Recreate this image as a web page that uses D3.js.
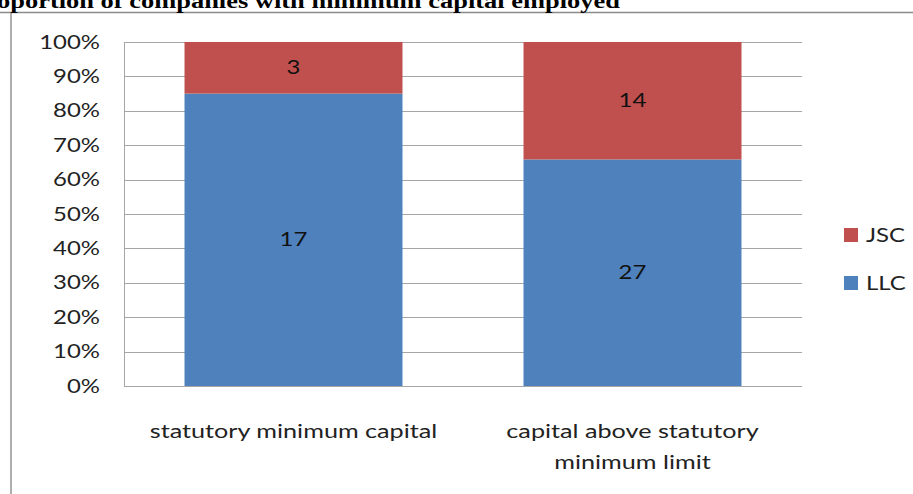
<!DOCTYPE html>
<html>
<head>
<meta charset="utf-8">
<script src="https://cdn.jsdelivr.net/npm/d3@7"></script>
<style>
  html, body { margin: 0; padding: 0; background: #fff; }
  svg { display: block; }
</style>
</head>
<body>
<svg id="chart" width="913" height="494"></svg>
<script>
// Company counts by capital level, split into LLC and JSC
const categories = [["statutory minimum capital"], ["capital above statutory", "minimum limit"]];
const llcCounts = [17, 27];
const jscCounts = [3, 14];
const seriesNames = ["LLC", "JSC"];
const seriesColors = ["#4F81BD", "#C0504D"];
const tickValues = [0, 0.1, 0.2, 0.3, 0.4, 0.5, 0.6, 0.7, 0.8, 0.9, 1.0];
const titleText = "Proportion of companies with minimum capital employed";

const svg = d3.select("#chart");
const font = "Lato, 'Open Sans', sans-serif";
const sx = 1.26; // horizontal widening of the lettering

// Outer frame: rule under the title and left border
svg.append("line").attr("x1", 0).attr("x2", 913).attr("y1", 12.5).attr("y2", 12.5)
  .attr("stroke", "#8a8a8a").attr("stroke-width", 1.6);
svg.append("line").attr("x1", 11).attr("x2", 11).attr("y1", 12).attr("y2", 494)
  .attr("stroke", "#9a9a9a").attr("stroke-width", 1.6);

// Title
svg.append("text").attr("transform", `translate(620,8) scale(${sx},1)`).attr("text-anchor", "end")
  .attr("font-family", "'Liberation Serif', 'Times New Roman', serif")
  .attr("font-weight", "bold").attr("font-size", 21).attr("fill", "#000")
  .text(titleText);

const plot = { left: 124, right: 802, top: 42, bottom: 386 };

const x = d3.scaleBand().domain(d3.range(categories.length))
  .range([plot.left, plot.right]).paddingInner(0.357).paddingOuter(0.1785);
const y = d3.scaleLinear().domain([0, 1]).range([plot.bottom, plot.top]);

// Gridlines
svg.append("g").selectAll("line").data(tickValues).join("line")
  .attr("x1", plot.left).attr("x2", plot.right)
  .attr("y1", d => Math.round(y(d)) + 0.5).attr("y2", d => Math.round(y(d)) + 0.5)
  .attr("stroke", "#a6a6a6").attr("stroke-width", 1);
svg.append("line").attr("x1", plot.left + 0.5).attr("x2", plot.left + 0.5)
  .attr("y1", plot.top).attr("y2", plot.bottom)
  .attr("stroke", "#a6a6a6");

// Y axis labels
const yAxis = d3.axisLeft(y).tickValues(tickValues).tickFormat(d3.format(".0%"))
  .tickSize(0).tickPadding(24);
const yg = svg.append("g").attr("transform", `translate(${plot.left},0)`).call(yAxis);
yg.select(".domain").remove();
yg.selectAll("text").attr("font-family", font).attr("font-size", 19).attr("fill", "#222")
  .attr("x", -24 / sx).attr("transform", `scale(${sx},1)`);

// Stacked percentage data
const rows = categories.map((c, i) => {
  const total = llcCounts[i] + jscCounts[i];
  return { i, LLC: llcCounts[i] / total, JSC: jscCounts[i] / total, counts: { LLC: llcCounts[i], JSC: jscCounts[i] } };
});
const stack = d3.stack().keys(seriesNames)(rows);

const layers = svg.append("g").selectAll("g").data(stack).join("g")
  .attr("fill", (d, k) => seriesColors[k]);
layers.selectAll("rect").data(d => d.map(p => ({ p, key: d.key }))).join("rect")
  .attr("x", d => x(d.p.data.i))
  .attr("width", x.bandwidth())
  .attr("y", d => y(d.p[1]))
  .attr("height", d => y(d.p[0]) - y(d.p[1]));

// Value labels inside the segments
layers.selectAll("text").data(d => d.map(p => ({ p, key: d.key }))).join("text")
  .attr("transform", d => `translate(${x(d.p.data.i) + x.bandwidth() / 2},${(y(d.p[0]) + y(d.p[1])) / 2}) scale(${sx},1)`)
  .attr("dy", "0.35em").attr("text-anchor", "middle")
  .attr("font-family", font).attr("font-size", 19).attr("fill", "#111")
  .text(d => d.p.data.counts[d.key]);

// Category labels
const cat = svg.append("g").selectAll("text").data(categories).join("text")
  .attr("transform", (d, i) => `translate(${x(i) + x.bandwidth() / 2},438) scale(${sx},1)`)
  .attr("text-anchor", "middle")
  .attr("font-family", font).attr("font-size", 20).attr("fill", "#222");
cat.selectAll("tspan").data(d => d).join("tspan")
  .attr("x", 0)
  .attr("dy", (d, j) => j === 0 ? 0 : 31)
  .text(d => d);

// Legend (JSC on top)
const legendItems = [1, 0];
const lg = svg.append("g").selectAll("g").data(legendItems).join("g")
  .attr("transform", (d, j) => `translate(844,${228 + j * 48})`);
lg.append("rect").attr("width", 14).attr("height", 14).attr("fill", d => seriesColors[d]);
lg.append("text").attr("transform", `translate(22,7) scale(${sx},1)`).attr("dy", "0.35em")
  .attr("font-family", font).attr("font-size", 19).attr("fill", "#222")
  .text(d => seriesNames[d]);
</script>
</body>
</html>
